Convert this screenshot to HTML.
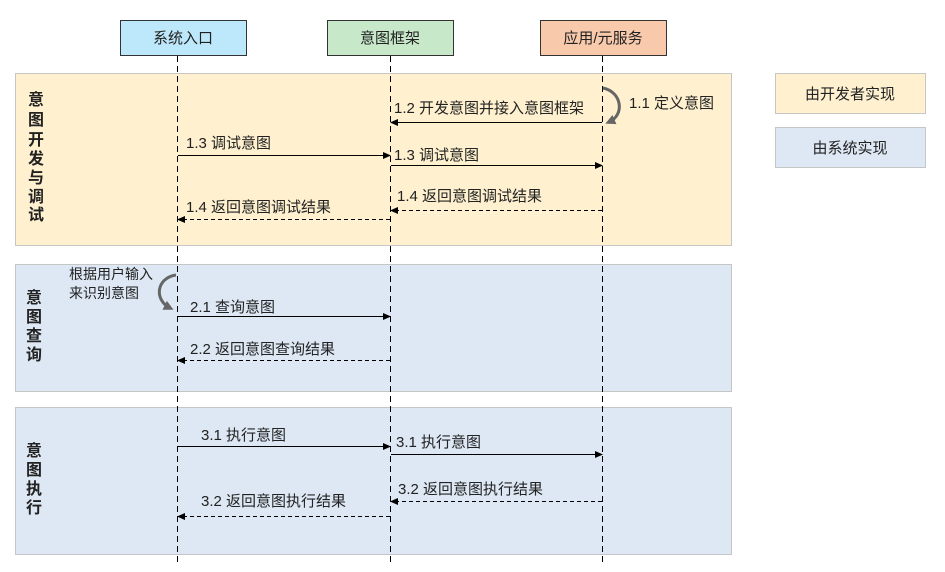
<!DOCTYPE html>
<html><head><meta charset="utf-8"><style>
body{margin:0;background:#fff;}
svg text{font-family:"Liberation Sans","Noto Sans CJK SC",sans-serif;fill:#222;}
</style></head><body>
<svg width="945" height="567" viewBox="0 0 945 567" xmlns="http://www.w3.org/2000/svg">
<defs>
<marker id="a" markerWidth="8" markerHeight="8" refX="7" refY="4" orient="auto" markerUnits="userSpaceOnUse"><path d="M0,0.5 L8,4 L0,7.5 Z" fill="#000"/></marker>
<marker id="g" markerWidth="10" markerHeight="10" refX="6" refY="5" orient="auto" markerUnits="userSpaceOnUse"><path d="M0,0 L10,5 L0,10 Z" fill="#666"/></marker>
</defs>
<rect x="15.5" y="73.5" width="716" height="172" fill="#fff1cf" stroke="#c6c6c6"/>
<rect x="15.5" y="264.5" width="716" height="127" fill="#dde8f4" stroke="#c6c6c6"/>
<rect x="15.5" y="407.5" width="716" height="147" fill="#dde8f4" stroke="#c6c6c6"/>
<rect x="775.5" y="73.5" width="150" height="40" fill="#fff1cf" stroke="#c6c6c6"/>
<rect x="775.5" y="127.5" width="150" height="40" fill="#dde8f4" stroke="#c6c6c6"/>
<text x="850" y="99" font-size="15" text-anchor="middle">由开发者实现</text>
<text x="850" y="153" font-size="15" text-anchor="middle">由系统实现</text>
<rect x="120.5" y="20.5" width="126" height="35" fill="#bde7fb" stroke="#333"/>
<rect x="327.5" y="20.5" width="126" height="35" fill="#c7e9c9" stroke="#333"/>
<rect x="540.5" y="20.5" width="126" height="35" fill="#f8c9ab" stroke="#333"/>
<text x="183" y="43" font-size="15" text-anchor="middle">系统入口</text>
<text x="390" y="43" font-size="15" text-anchor="middle">意图框架</text>
<text x="603" y="43" font-size="15" text-anchor="middle">应用/元服务</text>
<g stroke="#000" stroke-dasharray="6,4" stroke-width="1">
<line x1="177.5" y1="56" x2="177.5" y2="563"/>
<line x1="390.5" y1="56" x2="390.5" y2="563"/>
<line x1="602.5" y1="56" x2="602.5" y2="563"/>
</g>
<g font-size="16" font-weight="bold" text-anchor="middle">
<text x="36" y="105">意</text><text x="36" y="125">图</text><text x="36" y="145">开</text><text x="36" y="164">发</text><text x="36" y="183">与</text><text x="36" y="202">调</text><text x="36" y="220">试</text>
<text x="34" y="303">意</text><text x="34" y="322">图</text><text x="34" y="341">查</text><text x="34" y="360">询</text>
<text x="34" y="456">意</text><text x="34" y="475">图</text><text x="34" y="494">执</text><text x="34" y="513">行</text>
</g>
<path d="M603,88 C622,92 625,115 609,122" fill="none" stroke="#666" stroke-width="3" marker-end="url(#g)"/>
<path d="M176,275 C156,278 154,300 170,308" fill="none" stroke="#666" stroke-width="3" marker-end="url(#g)"/>
<text x="629" y="108" font-size="15">1.1 定义意图</text>
<text x="69" y="279" font-size="14">根据用户输入</text>
<text x="69" y="298" font-size="14">来识别意图</text>
<g stroke="#000" stroke-width="1" fill="none">
<line x1="602" y1="122.5" x2="391" y2="122.5" marker-end="url(#a)"/>
<line x1="178" y1="155.5" x2="390" y2="155.5" marker-end="url(#a)"/>
<line x1="391" y1="165.5" x2="602" y2="165.5" marker-end="url(#a)"/>
<line x1="602" y1="210.5" x2="391" y2="210.5" stroke-dasharray="4,3" marker-end="url(#a)"/>
<line x1="390" y1="219.5" x2="178" y2="219.5" stroke-dasharray="4,3" marker-end="url(#a)"/>
<line x1="178" y1="316.5" x2="390" y2="316.5" marker-end="url(#a)"/>
<line x1="390" y1="360.5" x2="178" y2="360.5" stroke-dasharray="4,3" marker-end="url(#a)"/>
<line x1="178" y1="446.5" x2="390" y2="446.5" marker-end="url(#a)"/>
<line x1="391" y1="454.5" x2="602" y2="454.5" marker-end="url(#a)"/>
<line x1="602" y1="501.5" x2="391" y2="501.5" stroke-dasharray="4,3" marker-end="url(#a)"/>
<line x1="390" y1="516.5" x2="178" y2="516.5" stroke-dasharray="4,3" marker-end="url(#a)"/>
</g>
<g font-size="15">
<text x="394" y="113">1.2 开发意图并接入意图框架</text>
<text x="186" y="148">1.3 调试意图</text>
<text x="394" y="160">1.3 调试意图</text>
<text x="397" y="201">1.4 返回意图调试结果</text>
<text x="186" y="212">1.4 返回意图调试结果</text>
<text x="190" y="312">2.1 查询意图</text>
<text x="190" y="354">2.2 返回意图查询结果</text>
<text x="201" y="440">3.1 执行意图</text>
<text x="396" y="447">3.1 执行意图</text>
<text x="398" y="494">3.2 返回意图执行结果</text>
<text x="201" y="506">3.2 返回意图执行结果</text>
</g>
</svg>
</body></html>
